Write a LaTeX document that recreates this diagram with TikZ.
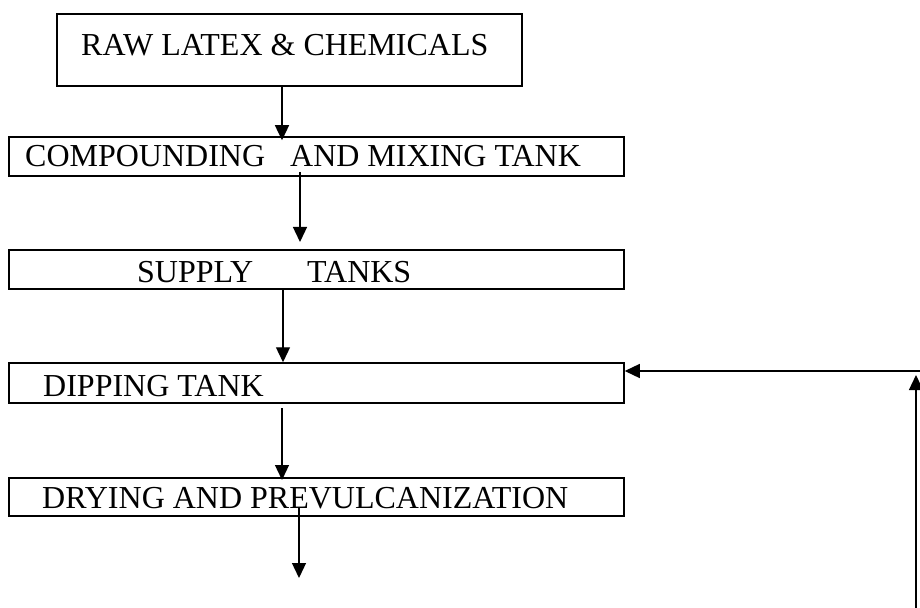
\documentclass[tikz,border=0pt]{standalone}
\usepackage{fontspec}
\setmainfont{Liberation Serif}
\usetikzlibrary{arrows.meta}
\begin{document}
\begin{tikzpicture}[x=1bp,y=-1bp,
  boxstyle/.style={draw=black,line width=1.5bp,rectangle,inner sep=0pt},
  lbl/.style={anchor=base west,inner sep=0pt,font=\fontsize{32bp}{36bp}\selectfont},
  flow/.style={line width=1.3bp,-{Triangle[length=15bp,width=14bp]}}]
\useasboundingbox (0,0) rectangle (920,608);
% boxes
\node[boxstyle,minimum width=465bp,minimum height=72bp] (b1) at (289.5,50) {};
\node[boxstyle,minimum width=615bp,minimum height=39bp] (b2) at (316.5,156.5) {};
\node[boxstyle,minimum width=615bp,minimum height=39bp] (b3) at (316.5,269.5) {};
\node[boxstyle,minimum width=615bp,minimum height=40bp] (b4) at (316.5,383) {};
\node[boxstyle,minimum width=615bp,minimum height=38bp] (b5) at (316.5,497) {};
% texts
\node[lbl] (t1) at (81,56) {RAW LATEX \& CHEMICALS};
\node[lbl] (t2) at (25,167) {COMPOUNDING\hspace{25bp}AND MIXING TANK};
\node[lbl] (t3) at (137,282) {SUPPLY\hspace{54bp}TANKS};
\node[lbl] (t4) at (43,396) {DIPPING TANK};
\node[lbl] (t5) at (42,508) {DRYING AND PREVULCANIZATION};
% helper coordinates
\coordinate (x1) at (282,0);
\coordinate (a2s) at (300,172);
\coordinate (a2e) at (300,242);
\coordinate (x3) at (283,0);
\coordinate (a4s) at (282,408);
\coordinate (a4e) at (282,480);
\coordinate (a5s) at (299,507);
\coordinate (a5e) at (299,578);
\coordinate (fbh) at (920,371);
\coordinate (fbb) at (916,608);
\coordinate (fbt) at (916,375);
% connectors
\draw[flow] (b1.south -| x1) -- ([yshift=-4bp]b2.north -| x1);
\draw[flow] (a2s) -- (a2e);
\draw[flow] (b3.south -| x3) -- (b4.north -| x3);
\draw[flow] (a4s) -- (a4e);
\draw[flow] (a5s) -- (a5e);
\draw[flow] (fbh) -- (b4.east |- fbh);
\draw[flow] (fbb) -- (fbt);
\end{tikzpicture}
\end{document}
